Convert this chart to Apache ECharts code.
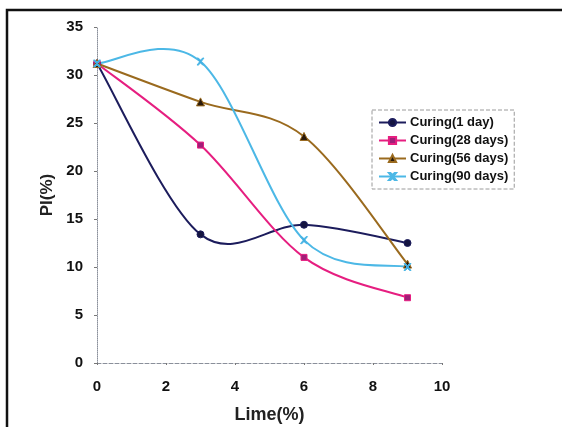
<!DOCTYPE html>
<html>
<head>
<meta charset="utf-8">
<script src="https://cdn.jsdelivr.net/npm/echarts@6/dist/echarts.min.js"></script>
<style>
  html, body { margin: 0; padding: 0; background: #fff; }
  #chart { width: 562px; height: 427px; }
</style>
</head>
<body>
<div id="chart"></div>
<script>
// Lime content (%) on the x axis
const limePct = [0, 3, 6, 9];

// Plasticity index (%) for each curing period
const curing1 = [31.2, 13.4, 14.4, 12.5];
const curing28 = [31.2, 22.7, 11.0, 6.8];
const curing56 = [31.2, 27.2, 23.6, 10.3];
const curing90 = [31.2, 31.4, 12.8, 10.0];

const seriesNames = ['Curing(1 day)', 'Curing(28 days)', 'Curing(56 days)', 'Curing(90 days)'];
const seriesColors = ['#1c1c5c', '#e61e80', '#9a6a1e', '#4cb8e6'];
const markerColors = ['#141440', '#a01e78', '#2a1a0c', '#3aa8e0'];
const markerShapes = ['circle', 'rect', 'triangle', 'path://M0,0 L2,0 L5,3 L8,0 L10,0 L6,5 L10,10 L8,10 L5,7 L2,10 L0,10 L4,5 Z'];
const markerSizes = [7, 6, 8, 7];

const FONT = '"Liberation Sans", Arial, sans-serif';

const values = [curing1, curing28, curing56, curing90];

function pairs(xs, ys) {
  return xs.map((x, i) => [x, ys[i]]);
}

// Smoothed curve through the points (Catmull-Rom style Bezier in pixel space,
// endpoints duplicated), positions taken from the chart's own axes.
function smoothCurve(ys, color) {
  return function (params, api) {
    const pts = limePct.map((x, i) => api.coord([x, ys[i]]));
    const n = pts.length;
    let d = 'M' + pts[0][0] + ' ' + pts[0][1];
    for (let i = 0; i < n - 1; i++) {
      const p0 = pts[Math.max(i - 1, 0)];
      const p1 = pts[i];
      const p2 = pts[i + 1];
      const p3 = pts[Math.min(i + 2, n - 1)];
      const c1x = p1[0] + (p2[0] - p0[0]) / 6;
      const c1y = p1[1] + (p2[1] - p0[1]) / 6;
      const c2x = p2[0] - (p3[0] - p1[0]) / 6;
      const c2y = p2[1] - (p3[1] - p1[1]) / 6;
      d += ' C' + c1x + ' ' + c1y + ' ' + c2x + ' ' + c2y + ' ' + p2[0] + ' ' + p2[1];
    }
    return {
      type: 'path',
      shape: { pathData: d },
      style: { fill: null, stroke: color, lineWidth: 2 },
      silent: true
    };
  };
}

const chart = echarts.init(document.getElementById('chart'), null, { renderer: 'canvas' });

const curveSeries = values.map((ys, i) => ({
  type: 'custom',
  coordinateSystem: 'cartesian2d',
  data: [[limePct[0], ys[0]]],
  renderItem: smoothCurve(ys, seriesColors[i]),
  z: 2,
  silent: true
}));

const markerSeries = seriesNames.map((name, i) => ({
  name: name,
  type: 'line',
  data: pairs(limePct, values[i]),
  symbol: markerShapes[i],
  symbolSize: markerSizes[i],
  showAllSymbol: true,
  z: 3,
  lineStyle: { color: seriesColors[i], width: 2, opacity: 0 },
  itemStyle: { color: markerColors[i], borderColor: seriesColors[i], borderWidth: 1 }
}));

chart.setOption({
  animation: false,
  backgroundColor: '#ffffff',
  textStyle: { fontFamily: FONT },
  grid: { left: 97, right: 120, top: 27, bottom: 64, outerBoundsMode: 'none' },
  graphic: [{
    type: 'polyline',
    shape: { points: [[7, 427], [7, 10], [562, 10]] },
    style: { stroke: '#111', lineWidth: 2.5, fill: null },
    silent: true
  }],
  legend: {
    orient: 'vertical',
    left: 372,
    top: 110,
    padding: [6, 6, 6, 6],
    itemGap: 5,
    itemWidth: 27,
    itemHeight: 9,
    borderColor: '#9a9a9a',
    borderWidth: 1,
    borderType: 'dashed',
    textStyle: { fontFamily: FONT, fontSize: 13, fontWeight: 'bold', color: '#111', padding: [0, 0, 0, -1] },
    data: seriesNames.map((name, i) => ({
      name: name,
      lineStyle: { color: seriesColors[i], width: 2, opacity: 1 }
    }))
  },
  xAxis: {
    type: 'value',
    min: 0,
    max: 10,
    interval: 2,
    name: 'Lime(%)',
    nameLocation: 'middle',
    nameGap: 43,
    nameTextStyle: { fontFamily: FONT, fontSize: 18, fontWeight: 'bold', color: '#222' },
    axisLine: { show: true, lineStyle: { color: '#8a8f9a', width: 1, type: 'dashed' } },
    axisTick: { show: true, length: 2, inside: false, lineStyle: { color: '#777' } },
    axisLabel: { margin: 16, fontFamily: FONT, fontSize: 15, fontWeight: 'bold', color: '#111' },
    splitLine: { show: false }
  },
  yAxis: {
    type: 'value',
    min: 0,
    max: 35,
    interval: 5,
    name: 'PI(%)',
    nameLocation: 'middle',
    nameGap: 41,
    nameTextStyle: { fontFamily: FONT, fontSize: 17, fontWeight: 'bold', color: '#222' },
    axisLine: { show: true, lineStyle: { color: '#8a8f9a', width: 1, type: 'dotted' } },
    axisTick: { show: true, length: 3, lineStyle: { color: '#777' } },
    axisLabel: { margin: 14, fontFamily: FONT, fontSize: 15, fontWeight: 'bold', color: '#111' },
    splitLine: { show: false }
  },
  series: curveSeries.concat(markerSeries)
});
</script>
</body>
</html>
